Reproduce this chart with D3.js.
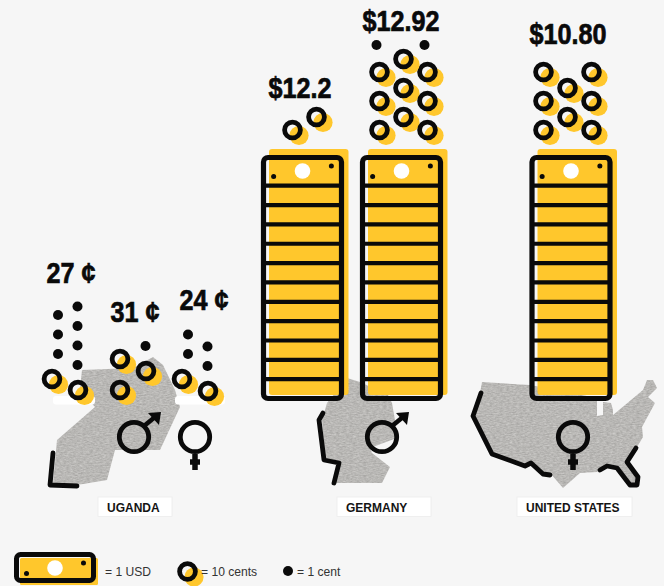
<!DOCTYPE html>
<html><head><meta charset="utf-8">
<script src="https://cdnjs.cloudflare.com/ajax/libs/d3/7.8.5/d3.min.js"></script>
<style>html,body{margin:0;padding:0;background:#f6f6f6}svg{display:block}</style></head>
<body><div id="chart"></div>
<script>
// ---------- data ----------
const stacks = ["ug-all","ug-men","ug-women","de-men","de-women","us-women"];
const wageLabels = ["27 ¢","31 ¢","24 ¢","$12.2","$12.92","$10.80"];
const dollars = [0,0,0,12,12,12];   // bills as drawn in the picture
const dimes   = [2,3,2,2,9,8];
const cents   = [7,1,4,0,2,0];
const countries = ["UGANDA","GERMANY","UNITED STATES"];
const legendLabels = ["= 1 USD","= 10 cents","= 1 cent"];

// ---------- map outlines (decoration) ----------
const ugandaShape = [[82,370],[133,368],[153,357],[163,365],[175,390],[180,407],[160,450],[115,450],[107,480],[77,485],[53,483],[57,440],[95,407],[80,390]];
const ugandaCoast = [[53,453],[50,485],[77,486]];
const germanyShape = [[347,378],[360,382],[388,395],[392,403],[395,420],[397,438],[370,448],[372,453],[390,467],[382,483],[333,483],[339,463],[325,462],[322,420],[327,403]];
const germanyCoast = [[323,413],[319,420],[324,460],[339,463],[334,483]];
const usShape = [[482,382],[530,385],[597,398],[597,416],[603,415],[603,402],[611,403],[613,410],[613,415],[643,390],[647,380],[653,380],[657,388],[648,397],[655,403],[642,427],[643,437],[637,447],[627,462],[638,477],[637,485],[630,485],[617,468],[607,466],[597,472],[580,473],[563,488],[550,473],[543,475],[530,463],[523,466],[492,453],[473,418],[480,393]];
const usCoastW = [[481,393],[473,416],[492,454],[525,466],[531,463],[543,474],[550,475]];
const usCoastE = [[600,470],[607,466],[617,468],[630,485],[637,485],[638,477],[627,462],[636,448]];

// ---------- layout ----------
const W = 664, H = 586, BLACK = "#0a0a0a", GOLD = "#ffc72c", BG = "#f6f6f6";
const svg = d3.select("#chart").append("svg").attr("width",W).attr("height",H);
svg.append("rect").attr("width",W).attr("height",H).attr("fill",BG);

const defs = svg.append("defs");
const f = defs.append("filter").attr("id","paper").attr("x","0").attr("y","0").attr("width","1").attr("height","1")
  .attr("color-interpolation-filters","sRGB");
f.append("feTurbulence").attr("type","fractalNoise").attr("baseFrequency","0.3 0.9").attr("numOctaves",3).attr("seed",4).attr("result","n");
f.append("feColorMatrix").attr("in","n").attr("type","matrix")
  .attr("values","0.2 0 0 0 0.625  0.2 0 0 0 0.62  0.2 0 0 0 0.61  0 0 0 0 1").attr("result","c");
f.append("feComposite").attr("in","c").attr("in2","SourceGraphic").attr("operator","in");

const line = d3.line();
const stackX = d3.scaleOrdinal().domain(stacks).range([65,133,195,316.5,403.5,567.5]);
const billX  = d3.scaleOrdinal().domain(stacks.slice(3)).range([302.5,401.5,571]);
const labelX = d3.scaleOrdinal().domain(stacks).range([71,135,204,300,401,568]);
const labelY = d3.scaleOrdinal().domain(stacks).range([283,322,310,98,31,44]);
const colX3  = d3.scaleLinear().domain([0,2]).range([-24,24]);
const levelY = d3.scaleLinear().domain([0,1]).range([130,101]);
const billLine = d3.scaleLinear().domain([0,10]).range([185.7,379.2]);
const ugBase = d3.scaleOrdinal().domain(stacks.slice(0,3)).range([[379,390],[390,371],[379,391]]);

function coin(g,x,y){
  g.append("circle").attr("cx",x+6.5).attr("cy",y+5.5).attr("r",9.6).attr("fill",GOLD);
  g.append("circle").attr("cx",x).attr("cy",y).attr("r",7.9).attr("fill","none").attr("stroke",BLACK).attr("stroke-width",4.8);
}
function cent(g,x,y){ g.append("circle").attr("cx",x).attr("cy",y).attr("r",5).attr("fill",BLACK); }

// maps
const maps = svg.append("g");
[ugandaShape,germanyShape,usShape].forEach(s=>{
  maps.append("path").attr("d",line(s)+"Z").attr("fill","#000").attr("filter","url(#paper)");
});
[ugandaCoast,germanyCoast,usCoastW,usCoastE].forEach(s=>{
  maps.append("path").attr("d",line(s)).attr("fill","none").attr("stroke",BLACK).attr("stroke-width",4.8)
    .attr("stroke-linejoin","round").attr("stroke-linecap","round");
});

// white strips beneath the Uganda coins
[[53,42],[175,50]].forEach(([x,w])=>svg.append("rect").attr("x",x).attr("y",396).attr("width",w).attr("height",8.5).attr("rx",3).attr("fill","#fff"));

// gender symbols
function male(cx,cy){
  const g = svg.append("g").attr("transform",`translate(${cx},${cy})`);
  g.append("circle").attr("r",14.7).attr("fill","none").attr("stroke",BLACK).attr("stroke-width",4.8);
  g.append("path").attr("d",line([[10,-11],[21,-20]])).attr("stroke",BLACK).attr("stroke-width",4.6);
  g.append("path").attr("d",line([[14,-24],[27,-25],[25,-12]])+"Z").attr("fill",BLACK);
}
function female(cx,cy){
  const g = svg.append("g").attr("transform",`translate(${cx},${cy})`);
  g.append("circle").attr("r",14.7).attr("fill","none").attr("stroke",BLACK).attr("stroke-width",4.8);
  g.append("path").attr("d",line([[0,17],[0,33]])).attr("stroke",BLACK).attr("stroke-width",5.5);
  g.append("path").attr("d",line([[-5,25],[5,25]])).attr("stroke",BLACK).attr("stroke-width",5.5);
}
male(134,437); female(195,437); male(382,437); female(573,437);

// bills
function billPanel(g,x0,y0,w,h){
  g.append("circle").attr("cx",x0+w/2).attr("cy",y0+h/2).attr("r",7.8).attr("fill","#fff");
  g.append("circle").attr("cx",x0+w*0.13).attr("cy",y0+h/2+5.5).attr("r",2.5).attr("fill",BLACK);
  g.append("circle").attr("cx",x0+w*0.87).attr("cy",y0+h/2-5).attr("r",2.5).attr("fill",BLACK);
}
stacks.forEach((s,i)=>{
  if(!dollars[i]) return;
  const g = svg.append("g"), c = billX(s), left = c-39, right = c+39, top = 157.5, bottom = 398.5;
  g.append("rect").attr("x",left+5.5).attr("y",149).attr("width",79.5).attr("height",246).attr("rx",3).attr("fill",GOLD);
  g.append("rect").attr("x",left).attr("y",top).attr("width",right-left).attr("height",bottom-top).attr("rx",4.5)
    .attr("fill","none").attr("stroke",BLACK).attr("stroke-width",5.2);
  billPanel(g,left,top,right-left,27);
  d3.range(dollars[i]-1).forEach(k=>{
    g.append("path").attr("d",line([[left,billLine(k)],[right,billLine(k)]])).attr("stroke",BLACK).attr("stroke-width",4.2);
  });
});

// coins and cents
const gap = {coincoin:31,coincent:25,centcent:19.5};
stacks.forEach((s,i)=>{
  const g = svg.append("g"), c = stackX(s);
  if(i<3){
    // two staggered columns, always filling the lower one
    const cols = ugBase(s).map(y=>({y,prev:null}));
    const items = d3.range(dimes[i]).map(()=>"coin").concat(d3.range(cents[i]).map(()=>"cent"));
    items.forEach(it=>{
      const next = cols.map(col=>col.prev? col.y-gap[col.prev+it] : col.y);
      const k = next[1]>=next[0] ? 1 : 0;
      cols[k].y = next[k]; cols[k].prev = it;
      if(it==="coin") coin(g, c+(k?13:-13), next[k]);
      else cent(g, c+(k?12.5:-7), next[k]);
    });
  } else {
    const slots = [[0,0],[1,0],[2,0],[0,1],[1,1],[2,1],[0,2],[2,2],[1,2]];
    slots.slice(0,dimes[i]).forEach(([col,lev])=>{
      coin(g, c+colX3(col), levelY(lev)-(col===1?13:0));
    });
    [[0],[2]].slice(0,cents[i]).forEach(([col])=>{
      cent(g, c+colX3(col)-3, levelY(3)+2);
    });
  }
  svg.append("text").attr("transform",`translate(${labelX(s)},${labelY(s)}) scale(0.84,1)`).attr("text-anchor","middle")
    .attr("font-family","'Liberation Sans',Arial,sans-serif").attr("font-weight",700)
    .attr("font-size",30).attr("fill",BLACK).attr("stroke",BLACK).attr("stroke-width",0.7).text(wageLabels[i]);
});

// country tags
const tagX = d3.scaleOrdinal().domain(countries).range([98,337,517]);
const tagW = d3.scaleOrdinal().domain(countries).range([74,94,115]);
countries.forEach(n=>{
  svg.append("rect").attr("x",tagX(n)).attr("y",497).attr("width",tagW(n)).attr("height",19.5).attr("fill","#fff").attr("stroke","#ececec").attr("stroke-width",0.8);
  svg.append("text").attr("x",tagX(n)+9).attr("y",511.5).attr("font-family","'Liberation Sans',Arial,sans-serif")
    .attr("font-weight",700).attr("font-size",12).attr("fill","#141414").text(n);
});

// legend
const lg = svg.append("g");
lg.append("rect").attr("x",20).attr("y",558).attr("width",78).attr("height",27).attr("rx",1.5).attr("fill",GOLD);
lg.append("rect").attr("x",16.5).attr("y",554.5).attr("width",77).attr("height",26).attr("rx",4).attr("fill","none").attr("stroke",BLACK).attr("stroke-width",5);
billPanel(lg,16.5,555,77,26);
coin(lg,187.5,571.5);
cent(lg,288,571);
const legendX = d3.scaleOrdinal().domain(legendLabels).range([105,201,297]);
legendLabels.forEach(t=>{
  lg.append("text").attr("x",legendX(t)).attr("y",576).attr("font-family","'Liberation Sans',Arial,sans-serif")
    .attr("font-size",12.1).attr("fill","#333").text(t);
});
</script></body></html>
